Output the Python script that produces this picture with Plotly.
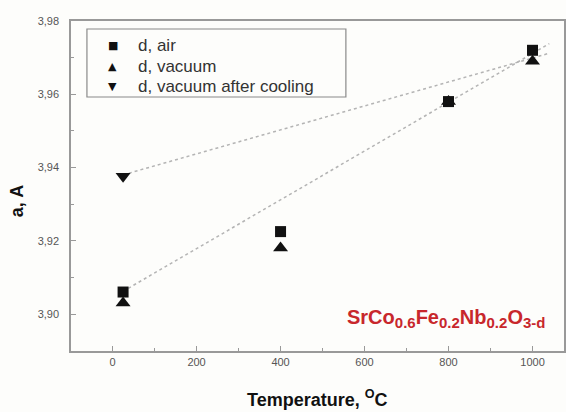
import plotly.graph_objects as go

# Lattice parameter of SrCo0.6Fe0.2Nb0.2O3-d versus temperature
temp_air = [25, 400, 800, 1000]
a_air = [3.906, 3.9225, 3.958, 3.972]

temp_vac = [25, 400, 800, 1000]
a_vac = [3.903, 3.918, 3.958, 3.969]

temp_cool = [25]
a_cool = [3.9376]

# Dotted guide lines
guide1_t = [25, 1040]
guide1_a = [3.9062, 3.9738]
guide2_t = [25, 1040]
guide2_a = [3.938, 3.9712]

series_names = ["d, air", "d, vacuum", "d, vacuum after cooling"]
legend_glyphs = ["\u25A0", "\u25B2", "\u25BC"]

W, H = 566, 412
L, R, T, B = 71, 0, 21, 61
pw, ph = W - L - R, H - T - B


def px_x(p):
    return (p - L) / pw


def px_y(p):
    return (H - B - p) / ph


FONT = "Arial, Liberation Sans, sans-serif"
guide_color = "#b4b4b4"
fig = go.Figure()
fig.add_trace(go.Scatter(x=guide1_t, y=guide1_a, mode="lines", showlegend=False,
                         line=dict(color=guide_color, width=1.5, dash="dot"), hoverinfo="skip"))
fig.add_trace(go.Scatter(x=guide2_t, y=guide2_a, mode="lines", showlegend=False,
                         line=dict(color=guide_color, width=1.5, dash="dot"), hoverinfo="skip"))
fig.add_trace(go.Scatter(x=temp_air, y=a_air, mode="markers", name=series_names[0],
                         marker=dict(symbol="square", size=11, color="#111")))
fig.add_trace(go.Scatter(x=temp_vac, y=a_vac, mode="markers", name=series_names[1],
                         marker=dict(symbol="triangle-up", size=13, color="#111")))
fig.add_trace(go.Scatter(x=temp_cool, y=a_cool, mode="markers", name=series_names[2],
                         marker=dict(symbol="triangle-down", size=13, color="#111")))

axis_color = "#999999"
tick_font = dict(family=FONT, size=11, color="#555")

fig.update_xaxes(range=[-99, 1075], tickvals=[0, 200, 400, 600, 800, 1000],
                 ticks="inside", ticklen=5, tickcolor=axis_color, tickwidth=1,
                 minor=dict(tickvals=[100, 300, 500, 700, 900], ticks="inside", ticklen=3,
                            tickcolor=axis_color),
                 showline=True, linecolor=axis_color, linewidth=1.5, mirror=True,
                 showgrid=False, zeroline=False, tickfont=tick_font)
fig.update_yaxes(range=[3.8899, 3.98], tickvals=[3.90, 3.92, 3.94, 3.96, 3.98],
                 tickformat=".2f", ticks="inside", ticklen=5, tickcolor=axis_color, tickwidth=1,
                 minor=dict(tickvals=[3.91, 3.93, 3.95, 3.97], ticks="inside", ticklen=3,
                            tickcolor=axis_color),
                 showline=True, linecolor=axis_color, linewidth=1.5, mirror=True,
                 showgrid=False, zeroline=False, tickfont=tick_font, ticklabelstandoff=8)

title_font = dict(family=FONT, size=18, color="#111")
fig.add_annotation(text="<b>Temperature, <sup>O</sup>C</b>", xref="paper", yref="paper",
                   x=px_x(318), y=px_y(398), xanchor="center", yanchor="middle",
                   showarrow=False, font=title_font)
fig.add_annotation(text="<b>a, A</b>", xref="paper", yref="paper", textangle=-90,
                   x=px_x(17), y=px_y(201), xanchor="center", yanchor="middle",
                   showarrow=False, font=title_font)

sub = lambda s: "<sub><span style='font-size:15px'>" + s + "</span></sub>"
formula = "<b>SrCo" + sub("0.6") + "Fe" + sub("0.2") + "Nb" + sub("0.2") + "O" + sub("3-d") + "</b>"
fig.add_annotation(text=formula, xref="paper", yref="paper", x=px_x(448), y=px_y(318),
                   xanchor="center", yanchor="middle", showarrow=False,
                   font=dict(family=FONT, size=20, color="#c8272c"))

# Legend: frame, symbols and labels
fig.add_shape(type="rect", xref="paper", yref="paper",
              x0=px_x(87), x1=px_x(347), y0=px_y(97), y1=px_y(29),
              line=dict(color="#8a8a8a", width=1.2), fillcolor="rgba(0,0,0,0)")
for i, (glyph, name) in enumerate(zip(legend_glyphs, series_names)):
    row_y = px_y(45 + 21 * i)
    fig.add_annotation(text=glyph, xref="paper", yref="paper", x=px_x(113), y=row_y,
                       xanchor="center", yanchor="middle", showarrow=False,
                       font=dict(family="DejaVu Sans", size=11, color="#111"))
    fig.add_annotation(text=name, xref="paper", yref="paper", x=px_x(136), y=row_y,
                       xanchor="left", yanchor="middle", showarrow=False,
                       font=dict(family=FONT, size=17, color="#333"))

fig.update_layout(
    width=W, height=H,
    margin=dict(l=L, r=R, t=T, b=B),
    paper_bgcolor="#fdfdfb", plot_bgcolor="#fdfdfb",
    separators=", ",
    showlegend=False,
)

fig.write_html("out.html")
